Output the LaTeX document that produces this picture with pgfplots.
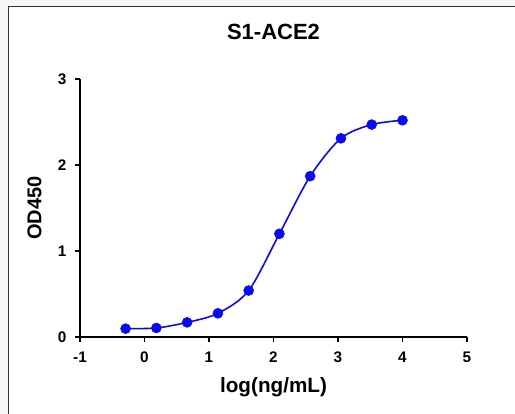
\documentclass[border=0pt]{standalone}
\usepackage{pgfplots}
\pgfplotsset{compat=1.18}
\usepackage{fontspec}
\setmainfont{Liberation Sans}
\definecolor{curveblue}{RGB}{10,10,240}
\definecolor{framegray}{RGB}{50,50,50}
\definecolor{bggray}{RGB}{247,247,247}

\pgfplotstableread{
x y
-0.293 0.097
0.184 0.105
0.661 0.170
1.138 0.275
1.615 0.540
2.092 1.200
2.569 1.870
3.046 2.310
3.523 2.470
4.000 2.520
}\sone

\begin{document}
\begin{tikzpicture}
% background and frame (1 px = 0.75 pt, axis corner at px (80,337))
\fill[bggray] (-60pt,-57.75pt) rectangle (326.25pt,252.75pt);
\fill[white] (-53.6pt,-57.75pt) rectangle (326.25pt,247.9pt);
\draw[framegray, line width=1.1pt] (-53.6pt,-57.75pt) -- (-53.6pt,247.9pt) -- (326.25pt,247.9pt);
\begin{axis}[
    at={(0,0)}, anchor=south west,
    scale only axis,
    width=290.25pt, height=193.5pt,
    xmin=-1, xmax=5, ymin=0, ymax=3,
    xtick={-1,0,...,5}, ytick={0,1,2,3},
    axis lines=left,
    axis line style={-, line width=1.2pt, black},
    tick align=outside,
    major tick length=3.75pt,
    tick style={line width=1.1pt, black},
    /pgf/number format/assume math mode=true,
    ticklabel style={font=\bfseries\fontsize{11.5}{13}\selectfont},
    xticklabel style={yshift=-4pt},
    yticklabel style={xshift=-3pt},
    title={S1-ACE2},
    title style={at={(axis description cs:0.5,1)}, anchor=base, yshift=24pt,
        font=\bfseries\fontsize{16.5}{18}\selectfont},
    xlabel={log(ng/mL)},
    xlabel style={at={(axis description cs:0.5,0)}, anchor=base, yshift=-42pt,
        font=\bfseries\fontsize{15.5}{17}\selectfont},
    ylabel={OD450},
    ylabel style={at={(axis description cs:-0.1,0.5)}, anchor=base,
        font=\bfseries\fontsize{15}{17}\selectfont},
    clip=false,
]
\addplot[curveblue, line width=1.2pt, smooth] table[x=x, y=y] {\sone};
\addplot[only marks, mark=*, mark size=3.75pt, curveblue,
    mark options={draw=curveblue, fill=curveblue}] table[x=x, y=y] {\sone};
\end{axis}
\pgfresetboundingbox
\useasboundingbox (-60pt,-57.75pt) rectangle (326.25pt,252.75pt);
\end{tikzpicture}
\end{document}
